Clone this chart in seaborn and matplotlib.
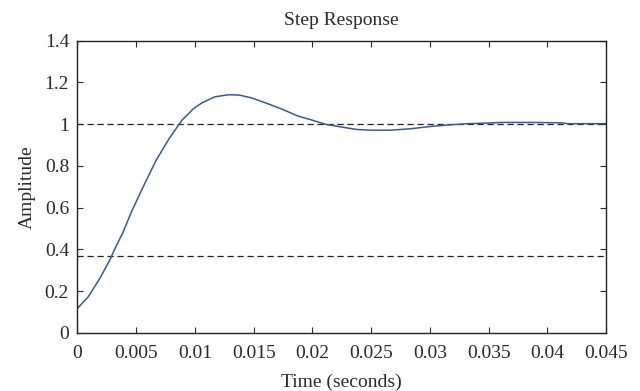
import matplotlib
matplotlib.use("Agg")

import pandas as pd
import matplotlib.pyplot as plt
import seaborn as sns

# step response
time_s = [0.0, 0.00093, 0.0019, 0.00275, 0.0032, 0.0039, 0.0046, 0.0056, 0.0067,
          0.0078, 0.0089, 0.0099, 0.0106, 0.0117, 0.0129, 0.0138, 0.0148, 0.016,
          0.0174, 0.0188, 0.0198, 0.0212, 0.0227, 0.0238, 0.025, 0.0267, 0.0284,
          0.0301, 0.0318, 0.0332, 0.0349, 0.0361, 0.0389, 0.0413, 0.0417, 0.045]
amplitude = [0.117, 0.173, 0.26, 0.348, 0.404, 0.484, 0.58, 0.70, 0.827,
             0.93, 1.019, 1.075, 1.102, 1.131, 1.141, 1.139, 1.126, 1.102,
             1.072, 1.038, 1.022, 0.998, 0.984, 0.974, 0.971, 0.971, 0.978,
             0.989, 0.997, 1.002, 1.005, 1.008, 1.008, 1.006, 1.002, 1.002]

ref_levels = [1.0, 0.368]  # final value and 1/e

x_ticks = [0, 0.005, 0.01, 0.015, 0.02, 0.025, 0.03, 0.035, 0.04, 0.045]
x_ticklabels = ["0", "0.005", "0.01", "0.015", "0.02", "0.025", "0.03", "0.035", "0.04", "0.045"]
y_ticks = [0, 0.2, 0.4, 0.6, 0.8, 1.0, 1.2, 1.4]
y_ticklabels = ["0", "0.2", "0.4", "0.6", "0.8", "1", "1.2", "1.4"]

FS = 14
TXT = "#2a2a2a"

sns.set_style("white")
plt.rcParams["font.family"] = ["Liberation Serif", "DejaVu Serif"]

df = pd.DataFrame({"t": time_s, "amp": amplitude})

fig = plt.figure(figsize=(6.4, 3.91), dpi=100)
ax = fig.add_axes([0.121, 0.149, 0.826, 0.747])

for lvl in ref_levels:
    ax.axhline(lvl, color="#222222", linestyle=(0, (5, 3)), linewidth=0.9, zorder=1)

sns.lineplot(data=df, x="t", y="amp", ax=ax, color="#3a55a8", linewidth=1.1, zorder=2)

ax.set_xlim(0, 0.045)
ax.set_ylim(0, 1.4)
ax.set_xticks(x_ticks)
ax.set_xticklabels(x_ticklabels)
ax.set_yticks(y_ticks)
ax.set_yticklabels(y_ticklabels)
ax.tick_params(direction="in", length=4, width=0.8, top=True, right=True,
               bottom=True, left=True, labelsize=FS, colors=TXT)
ax.tick_params(axis="x", pad=9)
ax.tick_params(axis="y", pad=6)
for s in ax.spines.values():
    s.set_color("#222222")
    s.set_linewidth(1.0)

ax.set_title("Step Response", fontsize=FS, color=TXT, pad=11)
ax.set_xlabel("Time (seconds)", fontsize=FS, color=TXT, labelpad=8)
ax.set_ylabel("Amplitude", fontsize=FS, color=TXT, labelpad=6)

fig.savefig("out.png", dpi=100)
plt.close(fig)
